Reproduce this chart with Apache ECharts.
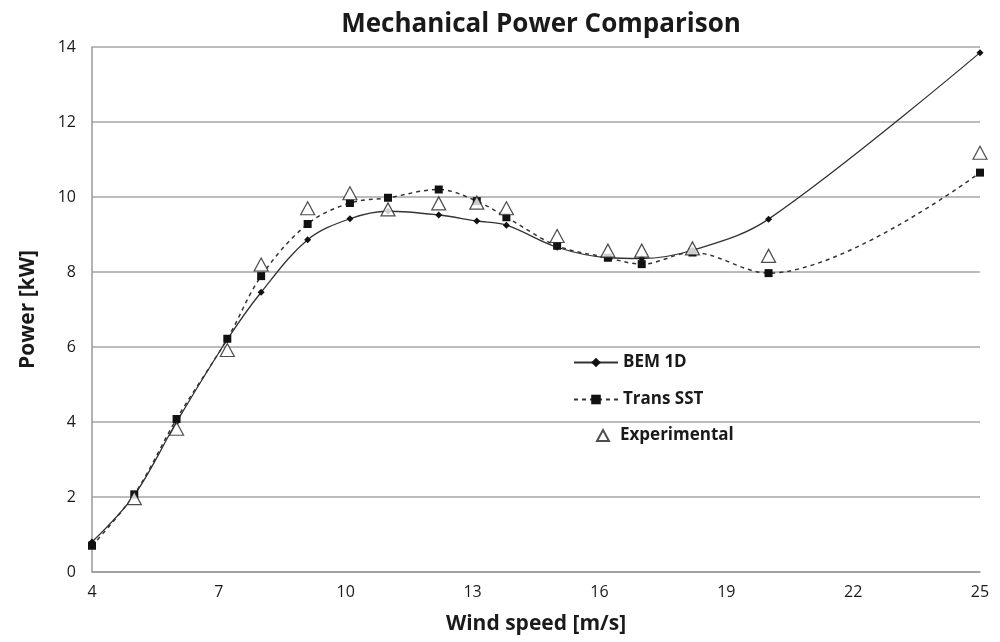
<!DOCTYPE html>
<html>
<head>
<meta charset="utf-8">
<script src="https://cdn.jsdelivr.net/npm/echarts@6/dist/echarts.min.js"></script>
<style>html,body{margin:0;padding:0;background:#fff}#c{width:1000px;height:642px}</style>
</head>
<body>
<div id="c"></div>
<script>
var windSpeed = [4, 5, 6, 7.2, 8, 9.1, 10.1, 11, 12.2, 13.1, 13.8, 15, 16.2, 17, 18.2, 20, 25];
var bem1d = [0.8, 2.05, 4.0, 6.2, 7.46, 8.86, 9.42, 9.62, 9.52, 9.36, 9.25, 8.66, 8.38, 8.36, 8.58, 9.41, 13.85];
var transSST = [0.7, 2.07, 4.08, 6.22, 7.89, 9.28, 9.84, 9.98, 10.2, 9.89, 9.46, 8.7, 8.38, 8.21, 8.52, 7.97, 10.65];
var expSpeed = [5, 6, 7.2, 8, 9.1, 10.1, 11, 12.2, 13.1, 13.8, 15, 16.2, 17, 18.2, 20, 25];
var experimental = [1.97, 3.82, 5.92, 8.2, 9.7, 10.1, 9.67, 9.83, 9.85, 9.7, 8.96, 8.57, 8.57, 8.63, 8.43, 11.18];
var xTicks = [4, 7, 10, 13, 16, 19, 22, 25];

function pairs(xs, ys) { return xs.map(function (x, i) { return [x, ys[i]]; }); }

var font = '"Open Sans", Lato, sans-serif';
var legendText = {fontFamily: font, fontWeight: 'bold', fontSize: 17, color: '#1a1a1a'};
var chart = echarts.init(document.getElementById('c'), null, {renderer: 'canvas'});
chart.setOption({
  animation: false,
  backgroundColor: '#fff',
  title: {
    text: 'Mechanical Power Comparison',
    left: 536, textAlign: 'center', top: 7,
    textStyle: {fontFamily: font, fontWeight: 'bold', fontSize: 26, color: '#1a1a1a'}
  },
  grid: {left: 92, right: 20, top: 47, bottom: 70, containLabel: false},
  legend: [{
    orient: 'vertical', left: 568, top: 349, itemGap: 20,
    itemWidth: 44, itemHeight: 12,
    textStyle: legendText,
    data: ['BEM 1D', 'Trans SST']
  }, {
    orient: 'vertical', left: 591, top: 422,
    itemWidth: 12, itemHeight: 11,
    textStyle: Object.assign({padding: [0, 0, 0, 6]}, legendText),
    data: ['Experimental']
  }],
  xAxis: {
    type: 'value', min: 4, max: 25, interval: 3,
    name: 'Wind speed [m/s]', nameLocation: 'middle', nameGap: 42,
    nameTextStyle: {fontFamily: font, fontWeight: 'bold', fontSize: 21, color: '#1a1a1a'},
    axisLine: {lineStyle: {color: '#999', width: 1.5}},
    axisTick: {show: false},
    splitLine: {show: false},
    axisLabel: {fontFamily: font, fontSize: 16, color: '#1a1a1a', margin: 12,
      formatter: function (v) { return xTicks.indexOf(v) >= 0 ? String(v) : ''; }}
  },
  yAxis: {
    type: 'value', min: 0, max: 14, interval: 2,
    name: 'Power [kW]', nameLocation: 'middle', nameGap: 53,
    nameTextStyle: {fontFamily: font, fontWeight: 'bold', fontSize: 21, color: '#1a1a1a'},
    axisLine: {show: true, lineStyle: {color: '#999', width: 1.5}},
    axisTick: {show: false},
    splitLine: {lineStyle: {color: '#a6a6a6', width: 1.5}},
    axisLabel: {fontFamily: font, fontSize: 16, color: '#1a1a1a', margin: 16}
  },
  series: [
    {
      name: 'BEM 1D', type: 'line', smooth: 0.35,
      data: pairs(windSpeed, bem1d),
      symbol: 'diamond', symbolSize: 7,
      itemStyle: {color: '#111'},
      lineStyle: {color: '#333', width: 1.3, type: 'solid'},
      z: 3
    },
    {
      name: 'Trans SST', type: 'line', smooth: 0.35,
      data: pairs(windSpeed, transSST),
      symbol: 'rect', symbolSize: 8,
      itemStyle: {color: '#111'},
      lineStyle: {color: '#333', width: 1.5, type: [4, 4]},
      z: 4
    },
    {
      name: 'Experimental', type: 'scatter',
      data: pairs(expSpeed, experimental),
      symbol: 'triangle', symbolSize: [14, 13],
      itemStyle: {color: '#fff', borderColor: '#222', borderWidth: 1.2},
      z: 5
    }
  ]
});
</script>
</body>
</html>
